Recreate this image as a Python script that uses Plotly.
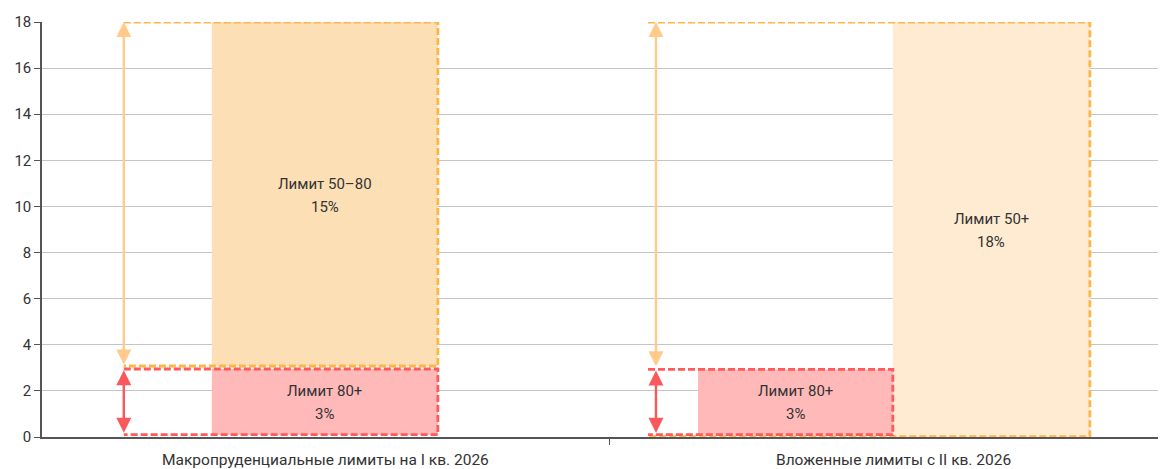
import plotly.graph_objects as go

# ---- data ----
categories = ["Макропруденциальные лимиты на I кв. 2026", "Вложенные лимиты с II кв. 2026"]
y_ticks = [0, 2, 4, 6, 8, 10, 12, 14, 16, 18]

# Category 1: stacked limits (bottom to top)
c1_names = ["Лимит 80+", "Лимит 50–80"]
c1_values = [3, 15]

# Category 2: nested limits
c2_names = ["Лимит 80+", "Лимит 50+"]
c2_values = [3, 18]

# ---- styles ----
ORANGE_LINE = "#FFB547"
RED_LINE = "#FF5A5A"
ORANGE_FILL_1 = "#FDDFB6"
ORANGE_FILL_2 = "#FEEBD1"
RED_FILL = "#FFB9B9"
ORANGE_ARROW = "#FFCA8A"
RED_ARROW = "#F9585C"
TEXT = "#333333"
DASH = "7px,3px"

fig = go.Figure()


def fill_rect(x0, x1, y0, y1, color):
    fig.add_trace(go.Scatter(x=[x0, x1, x1, x0, x0], y=[y0, y0, y1, y1, y0],
                             fill="toself", fillcolor=color, mode="lines",
                             line=dict(width=0), hoverinfo="skip", showlegend=False))


def dashed_open_rect(x0, x1, y0, y1, color):
    fig.add_trace(go.Scatter(x=[x0, x1, x1, x0], y=[y1, y1, y0, y0], mode="lines",
                             line=dict(color=color, width=2.8, dash=DASH),
                             hoverinfo="skip", showlegend=False))


def arrow(x, y_top, y_bot, color):
    fig.add_annotation(x=x, y=y_top, ax=x, ay=y_bot, xref="x", yref="y", axref="x", ayref="y",
                       showarrow=True, arrowhead=2, startarrowhead=2, arrowside="end+start",
                       arrowsize=1.25, startarrowsize=1.25, arrowwidth=2.4, arrowcolor=color, text="")


def label(x, y, name, value):
    fig.add_annotation(x=x, y=y, text=name, showarrow=False, yshift=11,
                       font=dict(size=15, color=TEXT))
    fig.add_annotation(x=x, y=y, text=f"{value}%", showarrow=False, yshift=-12,
                       font=dict(size=15, color=TEXT))


# ---- Category 1 (stacked) ----
red_top1 = c1_values[0]
orange_top1 = c1_values[0] + c1_values[1]
ax1, bx0, bx1 = 0.144, 0.299, 0.697
fill_rect(bx0, bx1, 0.1, red_top1 - 0.05, RED_FILL)
fill_rect(bx0, bx1, red_top1 + 0.08, orange_top1, ORANGE_FILL_1)
dashed_open_rect(ax1, bx1, red_top1 + 0.08, orange_top1, ORANGE_LINE)
dashed_open_rect(ax1, bx1, 0.1, red_top1 - 0.05, RED_LINE)
arrow(ax1, orange_top1, red_top1 + 0.08, ORANGE_ARROW)
arrow(ax1, red_top1 - 0.1, 0.12, RED_ARROW)

label((bx0 + bx1) / 2, (red_top1 + orange_top1) / 2, c1_names[1], c1_values[1])
label((bx0 + bx1) / 2, red_top1 / 2, c1_names[0], c1_values[0])

# ---- Category 2 (nested) ----
red_top2 = c2_values[0]
orange_top2 = c2_values[1]
ax2, lx0, rx0, rx1 = 1.081, 1.067, 1.155, 1.498
ox1 = 1.845
fill_rect(rx1, ox1, 0.0, orange_top2, ORANGE_FILL_2)
fill_rect(rx0, rx1, 0.1, red_top2 - 0.07, RED_FILL)
dashed_open_rect(lx0, ox1, 0.02, orange_top2, ORANGE_LINE)
dashed_open_rect(lx0, rx1, 0.1, red_top2 - 0.07, RED_LINE)
arrow(ax2, orange_top2, red_top2, ORANGE_ARROW)
arrow(ax2, red_top2 - 0.12, 0.12, RED_ARROW)

label((rx1 + ox1) / 2, orange_top2 / 2, c2_names[1], c2_values[1])
label((rx0 + rx1) / 2, red_top2 / 2, c2_names[0], c2_values[0])

# category labels
for i, c in enumerate(categories):
    fig.add_annotation(x=i + 0.5, y=0, yref="paper", xref="x", yshift=-23, text=c,
                       showarrow=False, font=dict(size=15.5, color=TEXT), yanchor="middle")

fig.update_layout(
    width=1158, height=461,
    margin=dict(l=34, r=0, t=14, b=32),
    plot_bgcolor="white", paper_bgcolor="white",
    font=dict(family="Roboto, Open Sans, sans-serif", color=TEXT),
)
fig.update_xaxes(range=[0, 1.979], tickvals=[1], ticktext=[""], ticks="outside", ticklen=6,
                 tickcolor="#555", showgrid=False, zeroline=False, showline=True,
                 linecolor="#555", linewidth=1.5, fixedrange=True)
fig.update_yaxes(range=[0, 18], tickvals=y_ticks, ticks="outside", ticklen=6, tickcolor="#555",
                 showgrid=True, gridcolor="#C4C4C4", gridwidth=1, zeroline=False,
                 showline=True, linecolor="#555", linewidth=1.5,
                 tickfont=dict(size=15, color=TEXT), fixedrange=True)

fig.write_html("out.html")
